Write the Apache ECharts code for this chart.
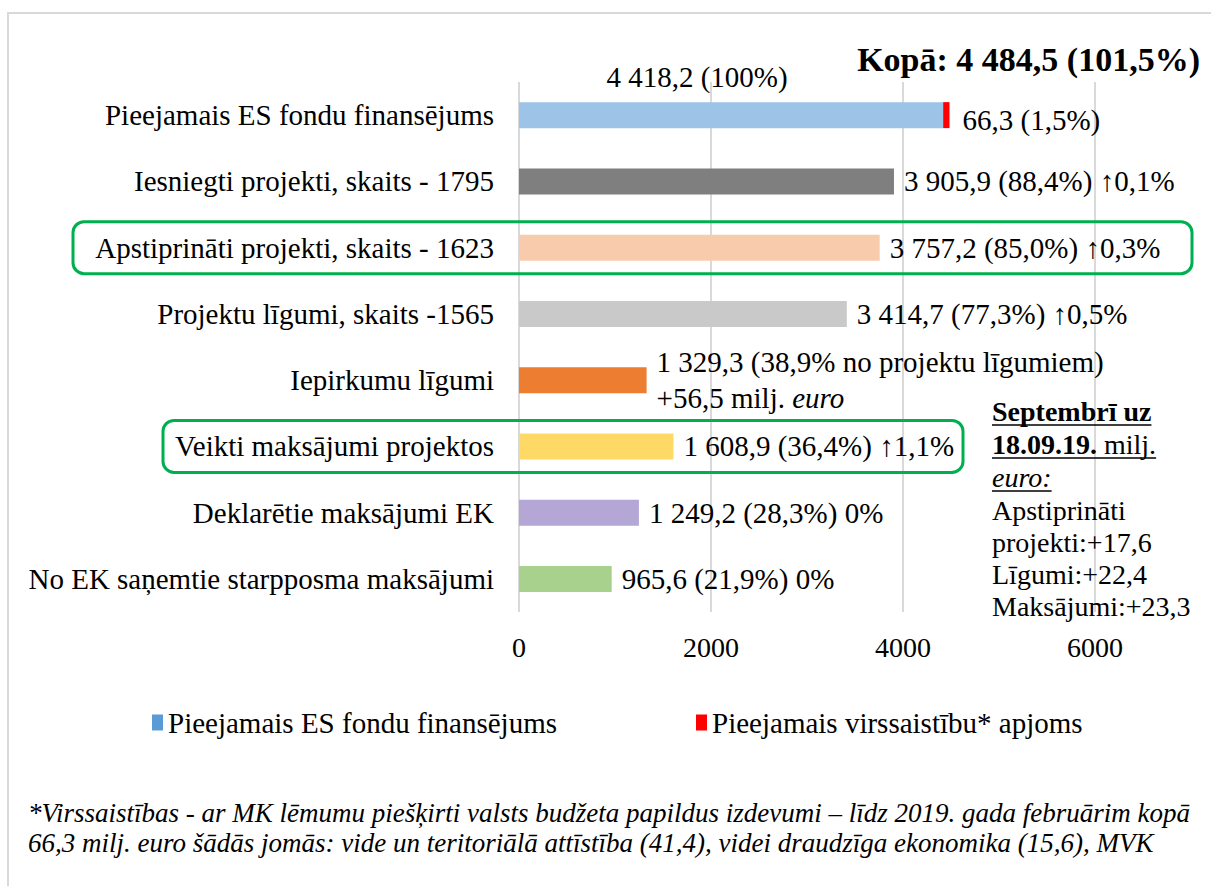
<!DOCTYPE html>
<html>
<head>
<meta charset="utf-8">
<script src="https://cdn.jsdelivr.net/npm/echarts@6/dist/echarts.min.js"></script>
<style>
  html, body { margin: 0; padding: 0; background: #fff; }
  #chart { width: 1211px; height: 886px; }
</style>
</head>
<body>
<div id="chart"></div>
<script>
// dati (milj. euro)
var categories = [
  'Pieejamais ES fondu finansējums',
  'Iesniegti projekti, skaits - 1795',
  'Apstiprināti projekti, skaits - 1623',
  'Projektu līgumi, skaits -1565',
  'Iepirkumu līgumi',
  'Veikti maksājumi projektos',
  'Deklarētie maksājumi EK',
  'No EK saņemtie starpposma maksājumi'
]
var fundValues = [4418.2, 3905.9, 3757.2, 3414.7, 1329.3, 1608.9, 1249.2, 965.6]
var overValues = [66.3, '-', '-', '-', '-', '-', '-', '-']
var valueLabels = [
  '4 418,2 (100%)',
  '3 905,9 (88,4%) ↑0,1%',
  '3 757,2 (85,0%) ↑0,3%',
  '3 414,7 (77,3%) ↑0,5%',
  '1 329,3 (38,9% no projektu līgumiem)\n+56,5 milj. {i|euro}',
  '1 608,9 (36,4%) ↑1,1%',
  '1 249,2 (28,3%) 0%',
  '965,6 (21,9%) 0%'
]
var overLabel = '66,3 (1,5%)'
var totalText = 'Kopā: 4 484,5 (101,5%)'
var xTicks = { min: 0, max: 6000, interval: 2000 }
var seriesNames = ['Pieejamais ES fondu finansējums', 'Pieejamais virssaistību* apjoms']
var highlighted = [2, 5] // rindas ar zaļo rāmi
var sideNote = ['Apstiprināti', 'projekti:+17,6', 'Līgumi:+22,4', 'Maksājumi:+23,3']
var footnote = '*Virssaistības - ar MK lēmumu piešķirti valsts budžeta papildus izdevumi – līdz 2019. gada februārim kopā\n' +
  '66,3 milj. euro šādās jomās: vide un teritoriālā attīstība (41,4), videi draudzīga ekonomika (15,6), MVK'

var barColors = ['#9dc3e6', '#7f7f7f', '#f8cbad', '#c9c9c9', '#ed7d31', '#ffd966', '#b4a7d6', '#a9d18e']
var FONT = '"Liberation Serif", "Times New Roman", serif'
var FS = 29

var chart = echarts.init(document.getElementById('chart'), null, { renderer: 'svg' })

function textWidth(text, font) {
  var ctx = document.createElement('canvas').getContext('2d')
  ctx.font = font
  return ctx.measureText(text).width
}

var fundData = fundValues.map(function (v, i) {
  var item = { value: v, itemStyle: { color: barColors[i] } }
  if (i === 0) {
    item.label = { position: 'top', distance: 7, offset: [-34, 0] }
  }
  return item
})

chart.setOption({
  animation: false,
  textStyle: { fontFamily: FONT },
  title: {
    text: totalText,
    right: 11,
    top: 42,
    padding: 0,
    textStyle: { fontFamily: FONT, fontSize: 34, fontWeight: 'bold', color: '#000' }
  },
  grid: { left: 519, right: 116, top: 82, height: 530 },
  legend: {
    top: 703,
    left: 147,
    itemGap: 139,
    itemWidth: 11,
    itemHeight: 16,
    icon: 'rect',
    textStyle: { fontFamily: FONT, fontSize: FS, color: '#000' },
    data: seriesNames
  },
  xAxis: {
    type: 'value',
    min: xTicks.min,
    max: xTicks.max,
    interval: xTicks.interval,
    axisLine: { show: false },
    axisTick: { show: false },
    axisLabel: {
      fontFamily: FONT, fontSize: 28, color: '#000', margin: 21,
      formatter: function (v) { return String(v) }
    },
    splitLine: { lineStyle: { color: '#d9d9d9', width: 2 } }
  },
  yAxis: {
    type: 'category',
    inverse: true,
    data: categories,
    axisLine: { show: false },
    axisTick: { show: false },
    axisLabel: { fontFamily: FONT, fontSize: FS, color: '#000', margin: 25 }
  },
  series: [
    {
      name: seriesNames[0],
      type: 'bar',
      stack: 'total',
      barWidth: 26,
      itemStyle: { color: '#5b9bd5' },
      label: {
        show: true,
        position: 'right',
        distance: 10,
        fontFamily: FONT,
        fontSize: FS,
        lineHeight: 36,
        color: '#000',
        formatter: function (p) { return valueLabels[p.dataIndex] },
        rich: { i: { fontFamily: FONT, fontSize: FS, fontStyle: 'italic', color: '#000' } }
      },
      data: fundData
    },
    {
      name: seriesNames[1],
      type: 'bar',
      stack: 'total',
      barWidth: 26,
      itemStyle: { color: '#ff0000' },
      label: {
        show: true,
        position: 'right',
        distance: 13,
        offset: [0, 5],
        fontFamily: FONT,
        fontSize: FS,
        color: '#000',
        formatter: function () { return overLabel }
      },
      data: overValues
    }
  ]
})

// rāmji, piezīmes un apmale
var graphics = [{
  type: 'rect',
  shape: { x: 8, y: 13, width: 1400, height: 1000 },
  style: { fill: 'none', stroke: '#d9d9d9', lineWidth: 2 },
  silent: true
}]

var boxX = [[73, 1192], [163, 963]]
highlighted.forEach(function (row, k) {
  var cy = chart.convertToPixel({ yAxisIndex: 0 }, categories[row])
  graphics.push({
    type: 'rect',
    shape: { x: boxX[k][0], y: cy - 26, width: boxX[k][1] - boxX[k][0], height: 52, r: 11 },
    style: { fill: 'none', stroke: '#00b050', lineWidth: 3 },
    z: 10
  })
})

var noteX = 992
var boldFont = 'bold 28px ' + FONT
var normFont = '28px ' + FONT
var w1 = textWidth('Septembrī uz', boldFont)
var w2 = textWidth('18.09.19. ', boldFont) + textWidth('milj.', normFont)
var w3 = textWidth('euro:', 'italic ' + normFont)
graphics.push(
  { type: 'text', x: noteX, y: 411, style: { text: 'Septembrī uz', font: boldFont, fill: '#000', verticalAlign: 'middle' } },
  { type: 'text', x: noteX, y: 444, style: { text: '{b|18.09.19.} milj.', font: normFont, fill: '#000', verticalAlign: 'middle',
    rich: { b: { fontWeight: 'bold', fontFamily: FONT, fontSize: 28 } } } },
  { type: 'text', x: noteX, y: 477, style: { text: 'euro:', font: 'italic ' + normFont, fill: '#000', verticalAlign: 'middle' } },
  { type: 'line', shape: { x1: noteX, y1: 425, x2: noteX + w1, y2: 425 }, style: { stroke: '#000', lineWidth: 1.5 } },
  { type: 'line', shape: { x1: noteX, y1: 458, x2: noteX + w2, y2: 458 }, style: { stroke: '#000', lineWidth: 1.5 } },
  { type: 'line', shape: { x1: noteX, y1: 491, x2: noteX + w3, y2: 491 }, style: { stroke: '#000', lineWidth: 1.5 } }
)
sideNote.forEach(function (line, i) {
  graphics.push({ type: 'text', x: noteX, y: 510 + i * 32,
    style: { text: line, font: normFont, fill: '#000', verticalAlign: 'middle' } })
})

graphics.push({
  type: 'text', x: 28, y: 798,
  style: { text: footnote, font: 'italic 27px ' + FONT, lineHeight: 30, fill: '#000' }
})

chart.setOption({ graphic: graphics })
</script>
</body>
</html>
